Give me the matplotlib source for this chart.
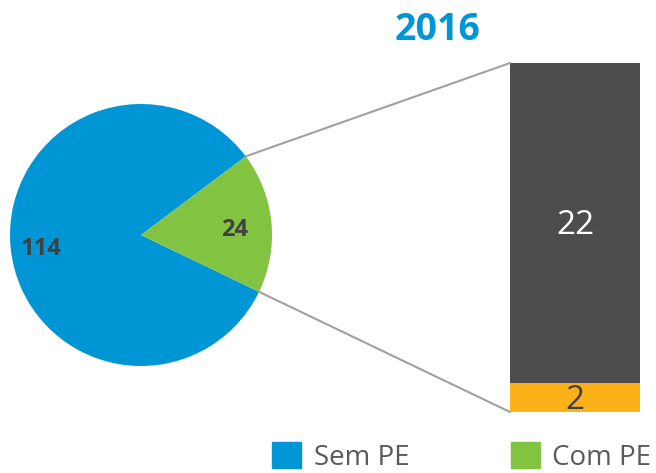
import numpy as np
import matplotlib.pyplot as plt
from matplotlib.patches import ConnectionPatch, Patch

plt.rcParams['font.family'] = ['Open Sans', 'DejaVu Sans']

# dados
pie_labels = ['Sem PE', 'Com PE']
pie_values = [114, 24]
pie_colors = ['#0096D6', '#82C341']

bar_values = [2, 22]
bar_colors = ['#FDB118', '#4D4D4F']
bar_text_colors = ['#404040', 'white']

W, H = 656, 473
fig = plt.figure(figsize=(W / 100, H / 100), dpi=100)

# pizza
ax1 = fig.add_axes([10 / W, (H - 366) / H, 262 / W, 262 / H])
start = 36.9
wedges, texts = ax1.pie(pie_values, colors=pie_colors, startangle=start,
                        counterclock=True, radius=1)
ax1.set_xlim(-1, 1)
ax1.set_ylim(-1, 1)
ax1.set_aspect('equal')

total = sum(pie_values)
ang = start
for v, r in zip(pie_values, [0.77, 0.72]):
    span = 360 * v / total
    mid = np.deg2rad(ang + span / 2)
    ax1.text(r * np.cos(mid), r * np.sin(mid) - 0.03, str(v), ha='center',
             va='center', fontsize=17, fontweight='bold', color='#404040')
    ang += span

# barra
ax2 = fig.add_axes([510 / W, (H - 412) / H, 130 / W, 349 / H])
bottom = 0
for v, c, tc in zip(bar_values, bar_colors, bar_text_colors):
    ax2.bar(0, v, width=1, bottom=bottom, color=c)
    ax2.text(0, bottom + v / 2 - 0.2, str(v), ha='center', va='center',
             fontsize=24, color=tc)
    bottom += v
ax2.set_xlim(-0.5, 0.5)
ax2.set_ylim(0, sum(bar_values))
ax2.axis('off')

fig.text(438 / W, 1 - 30 / H, '2016', ha='center', va='center',
         fontsize=27, fontweight='bold', color='#0096D6')

# linhas de ligação
a1 = np.deg2rad(start)
a2 = np.deg2rad(start - 360 * pie_values[1] / total)
for (px, py), by in [((np.cos(a1), np.sin(a1)), sum(bar_values)),
                     ((np.cos(a2), np.sin(a2)), 0)]:
    con = ConnectionPatch(xyA=(-0.5, by), coordsA=ax2.transData,
                          xyB=(px, py), coordsB=ax1.transData,
                          color='#A0A0A0', linewidth=1.5)
    fig.add_artist(con)

handles = [Patch(color=c) for c in pie_colors]
leg = fig.legend(handles, pie_labels, loc='lower left',
                 bbox_to_anchor=(247 / W, -0.05), ncol=2, frameon=False,
                 fontsize=20, handlelength=1.05, handleheight=1.05,
                 columnspacing=3.65, handletextpad=0.45)
for t in leg.get_texts():
    t.set_color('#595959')

fig.savefig('out.png', dpi=100)
